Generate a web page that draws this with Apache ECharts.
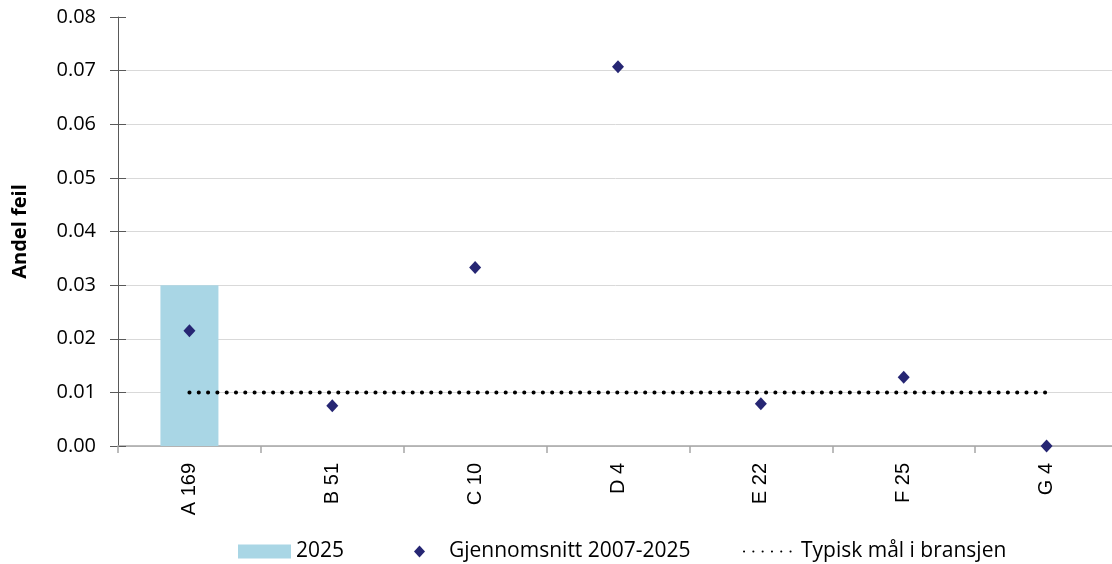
<!DOCTYPE html>
<html>
<head>
<meta charset="utf-8">
<script src="https://cdn.jsdelivr.net/npm/echarts@6/dist/echarts.min.js"></script>
<style>
    html, body {margin: 0; padding: 0; background: #fff;}
    #main {width: 1112px; height: 564px;}
</style>
</head>
<body>
<div id="main"></div>
<script>
    // kategorier og verdier lest av figuren
    const categories = ['A 169', 'B 51', 'C 10', 'D 4', 'E 22', 'F 25', 'G 4'];
    const bar2025 = [0.03, null, null, null, null, null, null];
    const avg2007_2025 = [0.0215, 0.0075, 0.0333, 0.0707, 0.0079, 0.0128, 0.0];
    const target = [0.01, 0.01, 0.01, 0.01, 0.01, 0.01, 0.01];
    const yTicks = [0, 0.08, 0.01]; // min, max, interval

    const font = 'Open Sans';
    const gridColors = ['#d9d9d9', '#d9d9d9', '#d9d9d9', '#d9d9d9', '#d9d9d9', '#d9d9d9', '#d9d9d9', '#d9d9d9', 'rgba(0,0,0,0)'];
    const legendText = {fontFamily: font, fontSize: 21, color: '#000'};

    const myChart = echarts.init(document.getElementById('main'));
    const option = {
        animation: false,
        textStyle: {fontFamily: font, color: '#000'},
        grid: {left: 118, right: -6, top: 17, bottom: 118, outerBoundsMode: 'none'},
        legend: [
            {
                left: 233, top: 536,
                itemWidth: 53, itemHeight: 14,
                textStyle: legendText,
                data: [{name: '2025', icon: 'rect'}]
            },
            {
                left: 409, top: 536,
                itemWidth: 11, itemHeight: 12,
                textStyle: Object.assign({padding: [0, 0, 0, 19]}, legendText),
                data: [{name: 'Gjennomsnitt 2007-2025', icon: 'diamond'}]
            },
            {
                left: 738, top: 536,
                itemWidth: 52, itemHeight: 14,
                textStyle: legendText,
                data: [{name: 'Typisk mål i bransjen', itemStyle: {opacity: 0}}]
            }
        ],
        xAxis: {
            type: 'category',
            data: categories,
            boundaryGap: true,
            axisLine: {lineStyle: {color: '#a6a6a6', width: 1.5}},
            axisTick: {show: true, length: 7, lineStyle: {color: '#a6a6a6', width: 1.5}},
            axisLabel: {rotate: 90, margin: 17, fontSize: 20, color: '#000', fontFamily: 'Liberation Sans'}
        },
        yAxis: [
            {
                type: 'value',
                min: yTicks[0], max: yTicks[1], interval: yTicks[2],
                name: 'Andel feil',
                nameLocation: 'middle',
                nameGap: 88,
                nameTextStyle: {fontWeight: 'bold', fontSize: 20, color: '#000', fontFamily: font},
                axisLine: {show: true, lineStyle: {color: '#595959', width: 1}},
                axisTick: {show: true, length: 8, lineStyle: {color: '#595959'}},
                axisLabel: {
                    margin: 22, fontSize: 20, color: '#000', fontFamily: font,
                    formatter: v => v.toFixed(2)
                },
                splitLine: {show: true, lineStyle: {color: gridColors, width: 1}}
            },
            {
                type: 'value',
                position: 'left',
                min: yTicks[0], max: yTicks[1], interval: yTicks[2],
                axisLine: {show: false},
                axisTick: {show: true, inside: true, length: 8, lineStyle: {color: '#595959'}},
                axisLabel: {show: false},
                splitLine: {show: false}
            }
        ],
        series: [
            {
                name: '2025',
                type: 'bar',
                data: bar2025,
                barWidth: 58,
                itemStyle: {color: '#a9d6e5'}
            },
            {
                name: 'Gjennomsnitt 2007-2025',
                type: 'scatter',
                data: avg2007_2025,
                symbol: 'diamond',
                symbolSize: [12, 13],
                itemStyle: {color: '#262673', opacity: 1},
                z: 5
            },
            {
                name: 'Typisk mål i bransjen',
                type: 'line',
                data: target,
                symbol: 'none',
                itemStyle: {color: '#000'},
                lineStyle: {color: '#000', width: 4, type: [0.1, 9.2], cap: 'round'},
                z: 4
            }
        ]
    };
    myChart.setOption(option);
</script>
</body>
</html>
